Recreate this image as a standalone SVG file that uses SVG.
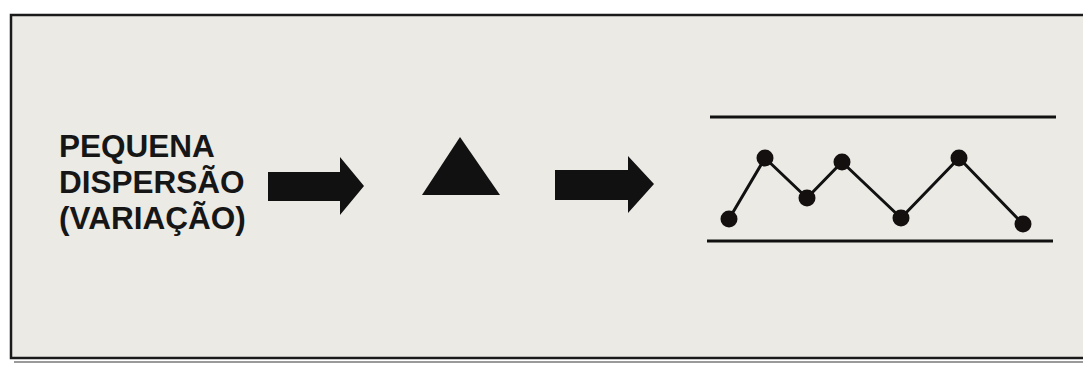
<svg xmlns="http://www.w3.org/2000/svg" width="1083" height="367" viewBox="0 0 1083 367">
<style>
.txt{font-family:"Liberation Sans",Arial,sans-serif;font-weight:bold;font-size:31.5px;fill:#161616}
.shape{fill:#111}
.lim{stroke:#111;stroke-width:3;fill:none}
.run{stroke:#111;stroke-width:3;fill:none;stroke-linejoin:round}
.pt{fill:#141010}
</style>
<rect x="0" y="0" width="1083" height="367" fill="#ffffff"/>
<rect x="11" y="15" width="1080" height="343" fill="#ebeae5" stroke="#1a1a1a" stroke-width="2.5"/>
<line x1="14" y1="362" x2="1083" y2="362" stroke="#9a9a9a" stroke-width="2"/>
<g id="label">
<text class="txt" x="59" y="157">PEQUENA</text>
<text class="txt" x="59" y="193">DISPERSÃO</text>
<text class="txt" x="59" y="229">(VARIAÇÃO)</text>
</g>
<g id="connectors">
<polygon id="arrow1" class="shape" points="268,172 340,172 340,157 364,186 340,215 340,201 268,201"/>
<polygon id="arrow2" class="shape" points="555,170 628,170 628,156 654,184 628,213 628,200 555,200"/>
</g>
<g id="triangle">
<polygon class="shape" points="460,137 500,195 422,195"/>
</g>
<g id="chart">
<line class="lim" x1="710" y1="117" x2="1056" y2="117"/>
<line class="lim" x1="707" y1="241" x2="1053" y2="241"/>
<polyline class="run" points="729,219 765,158 807,198 842,162 901,218 959,158 1023,224"/>
<circle class="pt" cx="729" cy="219" r="8.5"/>
<circle class="pt" cx="765" cy="158" r="8.5"/>
<circle class="pt" cx="807" cy="198" r="8.5"/>
<circle class="pt" cx="842" cy="162" r="8.5"/>
<circle class="pt" cx="901" cy="218" r="8.5"/>
<circle class="pt" cx="959" cy="158" r="8.5"/>
<circle class="pt" cx="1023" cy="224" r="8.5"/>
</g>
</svg>
